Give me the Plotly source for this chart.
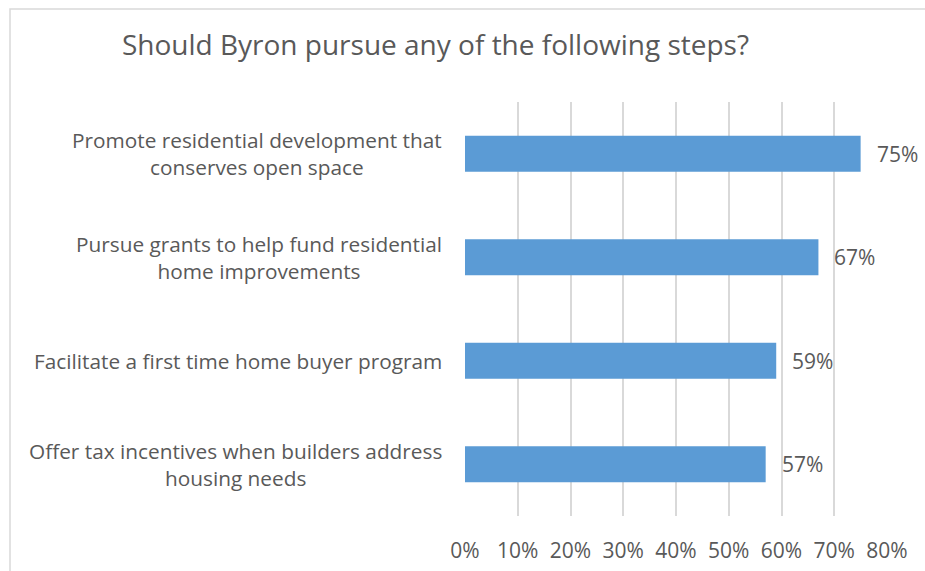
import plotly.graph_objects as go

categories = [
    "Promote residential development that<br>conserves open space",
    "Pursue grants to help fund residential<br>home improvements",
    "Facilitate a first time home buyer program",
    "Offer tax incentives when builders address<br>housing needs",
]
values = [0.75, 0.67, 0.59, 0.57]
value_labels = ["75%", "67%", "59%", "57%"]
tick_vals = [0, 0.1, 0.2, 0.3, 0.4, 0.5, 0.6, 0.7, 0.8]
tick_text = ["0%", "10%", "20%", "30%", "40%", "50%", "60%", "70%", "80%"]
title = "Should Byron pursue any of the following steps?"

W, H = 925, 571
ML, MR, MT, MB = 465, 38, 102, 55
pw, ph = W - ML - MR, H - MT - MB
txt = "#595959"
font = "Open Sans"

fig = go.Figure()
fig.add_trace(go.Bar(
    x=values, y=categories, orientation="h",
    marker=dict(color="#5B9BD5", line=dict(width=0)),
    width=0.35, hoverinfo="skip",
))

ann = []
for c, v, t in zip(categories, values, value_labels):
    ann.append(dict(x=v, y=c, xref="x", yref="y", text=t, showarrow=False,
                    xanchor="left", yanchor="middle", xshift=14,
                    font=dict(family=font, size=21, color=txt)))
    ann.append(dict(x=0, y=c, xref="paper", yref="y", text=c, showarrow=False,
                    xanchor="right", yanchor="middle", xshift=-21, align="center",
                    font=dict(family=font, size=20.8, color=txt)))

# chart border (light gray), extends beyond right/bottom of the view
fig.add_shape(type="rect", xref="paper", yref="paper",
              x0=(10 - ML) / pw, x1=(W + 40 - ML) / pw,
              y0=-(MB + 40) / ph, y1=(H - MB - 9) / ph,
              line=dict(color="#D9D9D9", width=1.5), fillcolor="rgba(0,0,0,0)",
              layer="below")

fig.update_layout(
    width=W, height=H,
    margin=dict(l=ML, r=MR, t=MT, b=MB, autoexpand=False),
    paper_bgcolor="white", plot_bgcolor="white",
    showlegend=False,
    title=dict(text=title, x=435.5 / W, xref="container", xanchor="center",
               y=1 - 45 / H, yref="container", yanchor="middle",
               font=dict(family=font, size=28, color=txt)),
    xaxis=dict(range=[0, 0.8], tickvals=tick_vals, ticktext=tick_text,
               showgrid=True, gridcolor="#D9D9D9", gridwidth=1.5,
               zeroline=False, showline=False, ticks="",
               ticklabelstandoff=20,
               tickfont=dict(family=font, size=21, color=txt), fixedrange=True),
    yaxis=dict(autorange="reversed", showticklabels=False, showgrid=False,
               zeroline=False, showline=False, ticks="", fixedrange=True),
    annotations=ann,
)

fig.write_html(
    "out.html",
    config={"displayModeBar": False},
    post_script="document.body.style.margin='0';document.body.style.overflow='hidden';",
)
